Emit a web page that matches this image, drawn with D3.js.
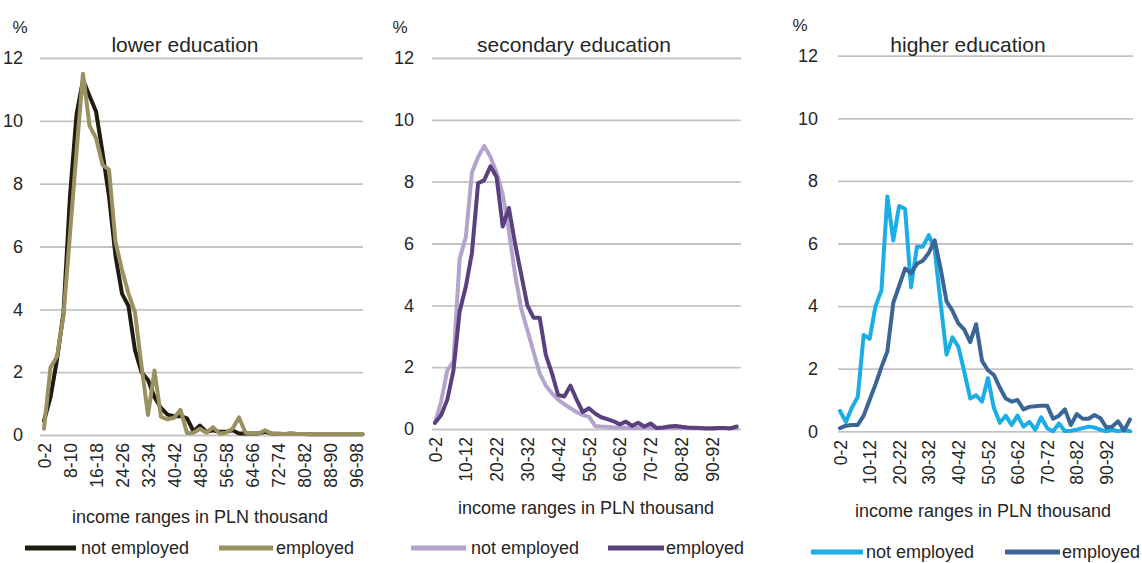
<!DOCTYPE html>
<html>
<head>
<meta charset="utf-8">
<script src="https://cdn.jsdelivr.net/npm/d3@7"></script>
<style>
  html, body { margin: 0; padding: 0; background: #fff; }
  svg { display: block; }
  text { font-family: "Liberation Sans", Arial, sans-serif; fill: #262626; }
</style>
</head>
<body>
<svg id="chart" width="1142" height="563"></svg>
<script>
// ---- data ----
const categories = d3.range(0, 100, 2).map(a => `${a}-${a + 2}`);
const yTicks = [0, 2, 4, 6, 8, 10, 12];
const ticksLower = ["0-2","8-10","16-18","24-26","32-34","40-42","48-50","56-58","64-66","72-74","80-82","88-90","96-98"];
const ticksOther = ["0-2","10-12","20-22","30-32","40-42","50-52","60-62","70-72","80-82","90-92"];
const panelTitles = ["lower education", "secondary education", "higher education"];
const seriesNames = ["not employed", "employed"];
const axisTitle = "income ranges in PLN thousand";

const lowerNotEmployed = [0.45, 1.2, 2.4, 3.9, 7.6, 10.2, 11.3, 10.8, 10.3, 9.0,
  7.6, 5.7, 4.5, 4.1, 2.7, 2.0, 1.75, 1.2, 0.86, 0.65,
  0.6, 0.6, 0.53, 0.12, 0.3, 0.1, 0.15, 0.1, 0.1, 0.15,
  0.05, 0.05, 0.05, 0.05, 0.1, 0.05, 0.04, 0.03, 0.05, 0.03,
  0.03, 0.02, 0.02, 0.02, 0.02, 0.02, 0.02, 0.02, 0.02, 0.02];
const lowerEmployed = [0.2, 2.15, 2.5, 3.8, 6.4, 9.0, 11.5, 9.85, 9.45, 8.6,
  8.45, 6.15, 5.25, 4.5, 3.9, 2.2, 0.64, 2.05, 0.58, 0.5,
  0.55, 0.8, 0.06, 0.07, 0.2, 0.07, 0.25, 0.05, 0.07, 0.2,
  0.56, 0.07, 0.05, 0.05, 0.15, 0.05, 0.03, 0.03, 0.03, 0.03,
  0.03, 0.03, 0.03, 0.03, 0.03, 0.03, 0.03, 0.03, 0.03, 0.03];
const secondaryNotEmployed = [0.2, 0.9, 1.9, 2.2, 5.5, 6.2, 8.3, 8.8, 9.15, 8.8,
  8.3, 7.6, 6.4, 5.0, 3.9, 3.2, 2.5, 1.8, 1.4, 1.15,
  0.95, 0.8, 0.67, 0.55, 0.45, 0.4, 0.1, 0.08, 0.07, 0.05,
  0.05, 0.04, 0.03, 0.03, 0.03, 0.03, 0.03, 0.03, 0.03, 0.03,
  0.03, 0.03, 0.03, 0.03, 0.03, 0.03, 0.03, 0.03, 0.03, 0.03];
const secondaryEmployed = [0.2, 0.45, 0.95, 1.9, 3.8, 4.6, 5.7, 7.95, 8.05, 8.5,
  8.15, 6.55, 7.15, 6.0, 5.0, 4.0, 3.6, 3.6, 2.4, 1.8,
  1.1, 1.05, 1.4, 0.95, 0.55, 0.67, 0.5, 0.38, 0.32, 0.25,
  0.15, 0.24, 0.1, 0.2, 0.08, 0.18, 0.03, 0.05, 0.08, 0.1,
  0.07, 0.05, 0.04, 0.03, 0.02, 0.02, 0.03, 0.03, 0.02, 0.08];
const higherNotEmployed = [0.65, 0.3, 0.75, 1.1, 3.08, 2.95, 4.0, 4.5, 7.5, 6.1,
  7.2, 7.1, 4.6, 5.9, 5.9, 6.27, 5.8, 4.1, 2.45, 3.0,
  2.7, 1.9, 1.05, 1.15, 0.95, 1.7, 0.75, 0.27, 0.5, 0.2,
  0.5, 0.15, 0.3, 0.05, 0.45, 0.1, 0.0, 0.25, 0.0, 0.02,
  0.05, 0.1, 0.15, 0.12, 0.05, 0.0, 0.05, 0.0, 0.05, 0.0];
const higherEmployed = [0.1, 0.18, 0.2, 0.2, 0.5, 1.0, 1.5, 2.05, 2.55, 4.1,
  4.65, 5.2, 5.05, 5.35, 5.45, 5.7, 6.1, 5.2, 4.15, 3.85,
  3.45, 3.25, 2.85, 3.42, 2.25, 1.95, 1.8, 1.4, 1.05, 0.95,
  1.0, 0.7, 0.78, 0.8, 0.82, 0.82, 0.4, 0.5, 0.7, 0.2,
  0.55, 0.4, 0.4, 0.52, 0.42, 0.12, 0.15, 0.32, 0.02, 0.38];

// ---- layout (positions & styles) ----
const panels = [
  { title: panelTitles[0], series: [lowerNotEmployed, lowerEmployed], colors: ["#1f1c10", "#9a9060"],
    ticks: ticksLower, x0: 44, x1: 362.5, gx0: 40, gx1: 363, y0: 435, y12: 58, pad: 17,
    pctX: 20, pctY: 33, titleX: 185, titleY: 52, xlabY: 443, axX: 200, axY: 523,
    legY: 548, leg: [25, 76, 81, 219, 273, 276] },
  { title: panelTitles[1], series: [secondaryNotEmployed, secondaryEmployed], colors: ["#b4a4cd", "#5b4080"],
    ticks: ticksOther, x0: 435, x1: 736.7, gx0: 432, gx1: 741, y0: 429, y12: 58, pad: 18,
    pctX: 400, pctY: 33, titleX: 574, titleY: 52, xlabY: 437, axX: 586, axY: 514,
    legY: 548, leg: [411, 466, 471, 608, 664, 666] },
  { title: panelTitles[2], series: [higherNotEmployed, higherEmployed], colors: ["#1aade6", "#3b6595"],
    ticks: ticksOther, x0: 840, x1: 1130, gx0: 838, gx1: 1133, y0: 431.3, y12: 55.7, pad: 20,
    pctX: 800, pctY: 31, titleX: 968, titleY: 52, xlabY: 440, axX: 983, axY: 517,
    legY: 552, leg: [811, 863, 866, 1005, 1060, 1062] }
];

const svg = d3.select("#chart");

panels.forEach(p => {
  const x = d3.scalePoint().domain(categories).range([p.x0, p.x1]);
  const y = d3.scaleLinear().domain([0, 12]).range([p.y0, p.y12]);
  const g = svg.append("g");

  // y axis with gridlines
  const ya = g.append("g").attr("transform", `translate(${p.gx0},0)`)
    .call(d3.axisLeft(y).tickValues(yTicks).tickSize(-(p.gx1 - p.gx0)).tickPadding(p.pad));
  ya.select(".domain").remove();
  ya.selectAll(".tick line").attr("stroke", "#c3c3c3").attr("stroke-width", 1.8);
  ya.selectAll(".tick text").style("font-size", "18px").style("font-family", "'Liberation Sans', Arial, sans-serif").attr("fill", "#333");

  // x axis labels
  const xa = g.append("g").attr("transform", `translate(0,${p.xlabY})`)
    .call(d3.axisBottom(x).tickValues(p.ticks).tickSize(0).tickPadding(0));
  xa.select(".domain").remove();
  xa.selectAll(".tick text")
    .attr("transform", "rotate(-90)")
    .attr("x", 0).attr("y", 0).attr("dy", "0.35em")
    .attr("text-anchor", "end")
    .style("font-size", "17.5px").style("font-family", "'Liberation Sans', Arial, sans-serif").attr("fill", "#333");

  // lines
  const line = d3.line().x((d, i) => x(categories[i])).y(d => y(d));
  p.series.forEach((s, k) => {
    g.append("path").datum(s).attr("d", line)
      .attr("fill", "none").attr("stroke", p.colors[k]).attr("stroke-width", 4)
      .attr("stroke-linejoin", "round").attr("stroke-linecap", "round");
  });

  // % and title
  g.append("text").attr("x", p.pctX).attr("y", p.pctY).attr("text-anchor", "middle")
    .style("font-size", "17px").attr("fill", "#333").text("%");
  g.append("text").attr("x", p.titleX).attr("y", p.titleY).attr("text-anchor", "middle")
    .style("font-size", "21px").attr("fill", "#1a1a1a").text(p.title);

  // axis title
  g.append("text").attr("x", p.axX).attr("y", p.axY).attr("text-anchor", "middle")
    .style("font-size", "18px").attr("fill", "#333").text(axisTitle);

  // legend
  const L = p.leg;
  [[L[0], L[1], L[2]], [L[3], L[4], L[5]]].forEach((e, k) => {
    g.append("line").attr("x1", e[0]).attr("x2", e[1]).attr("y1", p.legY).attr("y2", p.legY)
      .attr("stroke", p.colors[k]).attr("stroke-width", 5);
    g.append("text").attr("x", e[2]).attr("y", p.legY + 6)
      .style("font-size", "18px").attr("fill", "#333").text(seriesNames[k]);
  });
});
</script>
</body>
</html>
